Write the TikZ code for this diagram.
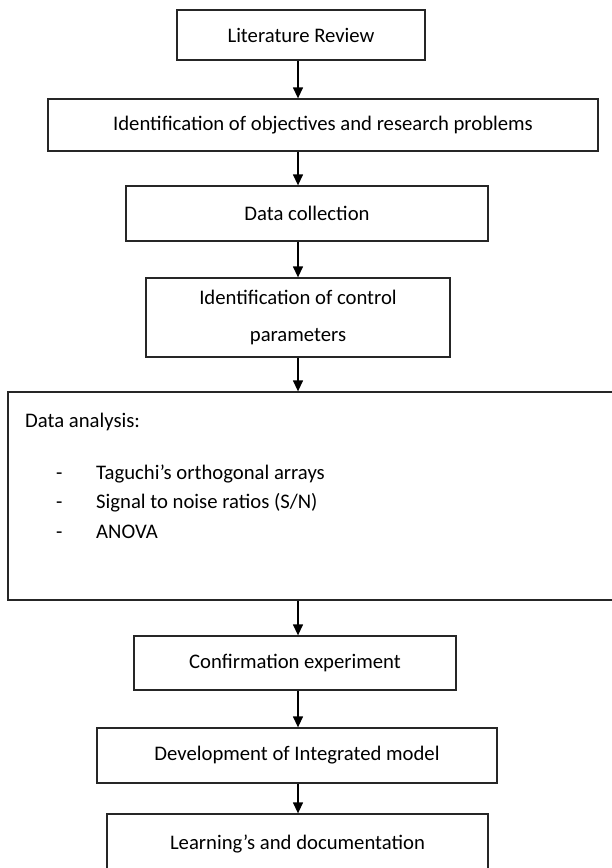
\documentclass[tikz,border=0pt]{standalone}
\usepackage{fontspec}
\setmainfont{Carlito}
\usetikzlibrary{arrows.meta}
\begin{document}
\begin{tikzpicture}[x=1pt,y=-1pt,
  box/.style={draw=black!85, line width=1.3pt, fill=white, inner sep=0pt, align=center,
    font=\fontsize{20.7}{37}\selectfont},
  txt/.style={inner sep=0pt, anchor=base west, font=\fontsize{20.7}{25}\selectfont},
  arr/.style={draw=black, line width=1.3pt, -{Triangle[length=11pt,width=10pt]}}]
\useasboundingbox (0,0) rectangle (612,868);
\clip (0,0) rectangle (612,868);
\coordinate (ax) at (298,0);

\node[box, minimum width=248pt, minimum height=50pt] (lit) at (301,35) {Literature Review};
\node[box, minimum width=550pt, minimum height=52pt] (obj) at (323,125) {Identification of objectives and research problems};
\node[box, minimum width=362pt, minimum height=55pt] (dc) at (307,213.5) {Data collection};
\node[box, minimum width=304pt, minimum height=79pt] (ctrl) at (298,317.5) {Identification of control\\parameters};
\node[box, minimum width=608pt, minimum height=208pt] (da) at (312,496) {};
\node[txt] (datitle) at (25,427) {Data analysis:};
\node[txt] (d1) at (56,479) {-};
\node[txt] (d2) at (56,508) {-};
\node[txt] (d3) at (56,538) {-};
\node[txt] (i1) at (96,479) {Taguchi’s orthogonal arrays};
\node[txt] (i2) at (96,508) {Signal to noise ratios (S/N)};
\node[txt] (i3) at (96,538) {ANOVA};
\node[box, minimum width=322pt, minimum height=54pt] (conf) at (295,663) {Confirmation experiment};
\node[box, minimum width=400pt, minimum height=55pt] (dev) at (297,755.5) {Development of Integrated model};
\node[box, minimum width=381pt, minimum height=60pt] (learn) at (297.5,844) {Learning’s and documentation};

\draw[arr] (lit.south -| ax) -- (obj.north -| ax);
\draw[arr] (obj.south -| ax) -- (dc.north -| ax);
\draw[arr] (dc.south -| ax) -- (ctrl.north -| ax);
\draw[arr] (ctrl.south -| ax) -- (da.north -| ax);
\draw[arr] (da.south -| ax) -- (conf.north -| ax);
\draw[arr] (conf.south -| ax) -- (dev.north -| ax);
\draw[arr] (dev.south -| ax) -- (learn.north -| ax);
\end{tikzpicture}
\end{document}
